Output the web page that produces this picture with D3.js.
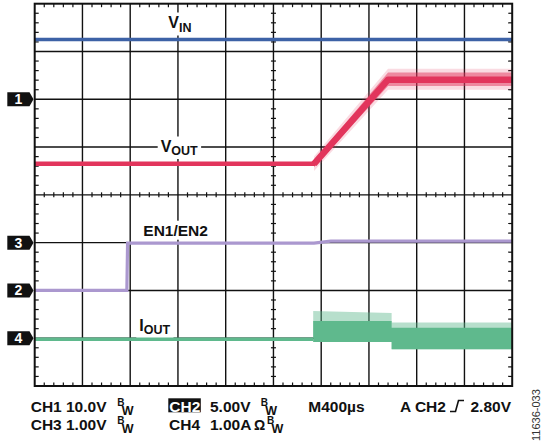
<!DOCTYPE html>
<html><head><meta charset="utf-8">
<script src="https://cdn.jsdelivr.net/npm/d3@7"></script>
<style>
body{margin:0;background:#fff}
svg{display:block}
text{font-family:"Liberation Sans",Arial,Helvetica,sans-serif;font-weight:bold;fill:#111}
</style>
</head><body>
<svg id="c" width="542" height="442"></svg>
<script>
// ---- data (time in µs, 400 µs/div; level in divisions, 0 = screen centre) ----
const timeTicks = d3.range(0, 4001, 400);
const timeMinor = d3.range(0, 4001, 80);
const levelTicks = d3.range(-4, 4.001, 1);
const levelMinor = d3.range(-4, 4.001, 0.2);

const vinT = [0, 4000];
const vinV = [3.25, 3.25];

const voutT = [0, 2340, 2960, 4000];
const voutV = [0.65, 0.65, 2.41, 2.41];
const voutNoiseT  = [2340, 2960, 4000];
const voutNoiseHi = [0.72, 2.56, 2.56];
const voutNoiseLo = [0.58, 2.28, 2.28];

const enT = [0, 772, 778, 2340, 2480, 4000];
const enV = [-2.0, -2.0, -1.01, -1.01, -0.97, -0.97];

const ioutT = [0, 2333];
const ioutV = [-3.02, -3.02];
const ioutBandT      = [2333, 2990, 2990, 4000];
const ioutSparseHi   = [-2.43, -2.47, -2.67, -2.67];
const ioutDenseHi    = [-2.64, -2.64, -2.78, -2.78];
const ioutDenseLo    = [-3.08, -3.08, -3.23, -3.23];

const markerLabels = ["1", "2", "3", "4"];
const markerLevels = [2, -2, -1, -3];

const row1 = ["CH1 10.0V", "5.00V", "M400µs", "A CH2", "2.80V"];
const row2 = ["CH3 1.00V", "CH4", "1.00A", "Ω"];
const figId = "11636-033";

// ---- scales ----
const X0 = 34.7, X1 = 512.2, Y0 = 3.7, Y1 = 386;
const x = d3.scaleLinear().domain([0, 4000]).range([X0, X1]);
const y = d3.scaleLinear().domain([-4, 4]).range([Y1, Y0]);

const svg = d3.select("#c");
const C = {vin:"#3d62a6", vout:"#e2355c", en:"#ab98cf", iout:"#5fb98d"};

// ---- grid ----
const g = svg.append("g");
g.selectAll(".vx").data(timeTicks.slice(1, -1)).join("line")
  .attr("x1", d => x(d)).attr("x2", d => x(d)).attr("y1", Y0).attr("y2", Y1)
  .attr("stroke", "#111").attr("stroke-width", 1.4);
g.selectAll(".hy").data(levelTicks.slice(1, -1)).join("line")
  .attr("y1", d => y(d)).attr("y2", d => y(d)).attr("x1", X0).attr("x2", X1)
  .attr("stroke", "#111").attr("stroke-width", 1.4);

const minorX = timeMinor.filter(t => t % 400 !== 0);
const minorY = levelMinor.filter(v => Math.abs(v - Math.round(v)) > 1e-6);
const tk = svg.append("g").attr("stroke", "#111").attr("stroke-width", 1.2);
minorX.forEach(t => {
  tk.append("line").attr("x1", x(t)).attr("x2", x(t)).attr("y1", Y0).attr("y2", Y0 + 3.5);
  tk.append("line").attr("x1", x(t)).attr("x2", x(t)).attr("y1", Y1 - 3.5).attr("y2", Y1);
  tk.append("line").attr("x1", x(t)).attr("x2", x(t)).attr("y1", y(0) - 2.5).attr("y2", y(0) + 2.5);
});
minorY.forEach(v => {
  tk.append("line").attr("y1", y(v)).attr("y2", y(v)).attr("x1", X0).attr("x2", X0 + 4);
  tk.append("line").attr("y1", y(v)).attr("y2", y(v)).attr("x1", X1 - 4).attr("x2", X1);
  tk.append("line").attr("y1", y(v)).attr("y2", y(v)).attr("x1", x(2000) - 2.5).attr("x2", x(2000) + 2.5);
});

// ---- labels with white backing ----
const px2t = p => (p - X0) / (X1 - X0) * 4000;
const py2v = p => y.invert(p);
function label(main, sub, px, py, mainSize, subSize, subDy) {
  const txt = svg.append("text").attr("x", x(px2t(px))).attr("y", y(py2v(py))).attr("font-size", mainSize);
  txt.append("tspan").text(main);
  if (sub) txt.append("tspan").attr("font-size", subSize).attr("dy", subDy).text(sub);
  const b = txt.node().getBBox();
  svg.insert("rect", "text").attr("x", b.x - 3).attr("y", b.y - 1)
    .attr("width", b.width + 6).attr("height", b.height + 2).attr("fill", "#fff");
  return txt;
}
label("V", "IN", 168.3, 27.5, 16, 12.5, 4);
label("V", "OUT", 160.7, 151.5, 16, 12.5, 3.5);
label("EN1/EN2", null, 143.3, 235.7, 15.5);
label("I", "OUT", 139.3, 331, 16, 12.5, 3);

// ---- traces ----
svg.append("clipPath").attr("id", "pc").append("rect")
  .attr("x", X0).attr("y", Y0).attr("width", X1 - X0).attr("height", Y1 - Y0);
const tr = svg.append("g").attr("clip-path", "url(#pc)");
const line = d3.line().x(d => x(d[0])).y(d => y(d[1]));
const zip = (a, b) => a.map((d, i) => [d, b[i]]);
const band = (T, hi, lo) => d3.area().x((d, i) => x(T[i])).y0((d, i) => y(lo[i])).y1((d, i) => y(hi[i]))(T);

tr.append("path").attr("d", line(zip(vinT, vinV))).attr("fill", "none").attr("stroke", C.vin).attr("stroke-width", 3.5);

tr.append("path").attr("d", band(voutNoiseT, voutNoiseHi.map(v => v + 0.08), voutNoiseLo.map(v => v - 0.08)))
  .attr("fill", C.vout).attr("fill-opacity", 0.18);
tr.append("path").attr("d", band(voutNoiseT, voutNoiseHi, voutNoiseLo)).attr("fill", C.vout).attr("fill-opacity", 0.5);
tr.append("path").attr("d", line(zip(voutT, voutV))).attr("fill", "none").attr("stroke", C.vout).attr("stroke-width", 4.5);
tr.append("path").attr("d", line(zip(voutT.slice(1), voutV.slice(1)))).attr("fill", "none")
  .attr("stroke", C.vout).attr("stroke-width", 6.5).attr("stroke-linejoin", "round");

tr.append("path").attr("d", line(zip(enT, enV))).attr("fill", "none").attr("stroke", C.en).attr("stroke-width", 3.2);

tr.append("path").attr("d", band(ioutBandT, ioutSparseHi, ioutDenseLo)).attr("fill", C.iout).attr("fill-opacity", 0.45);
tr.append("path").attr("d", band(ioutBandT, ioutDenseHi, ioutDenseLo)).attr("fill", C.iout);
tr.append("path").attr("d", line(zip(ioutT, ioutV))).attr("fill", "none").attr("stroke", C.iout).attr("stroke-width", 3.5);

// border
svg.append("rect").attr("x", X0).attr("y", Y0).attr("width", X1 - X0).attr("height", Y1 - Y0)
  .attr("fill", "none").attr("stroke", "#111").attr("stroke-width", 2);

// ---- channel markers ----
markerLabels.forEach((m, i) => {
  const cy = y(markerLevels[i]);
  svg.append("path").attr("d", `M7.3,${cy - 7}H29.5L33.5,${cy}L29.5,${cy + 7}H7.3Z`).attr("fill", "#111");
  svg.append("text").attr("x", 18.5).attr("y", cy + 5).attr("text-anchor", "middle")
    .attr("font-size", 14).style("fill", "#fff").text(m);
});

// ---- bottom status text ----
const fs = 15.5;
function bw(x0, base) {
  const t = svg.append("text").attr("x", x0).attr("y", base - 6);
  t.append("tspan").attr("font-size", 10).text("B");
  t.append("tspan").attr("font-size", 12.5).attr("dx", -2.8).attr("dy", 9.5).text("W");
}
const b1 = 411.5, b2 = 429.5;
svg.append("text").attr("x", 30.7).attr("y", b1).attr("font-size", fs).text(row1[0]);
bw(117.3, b1);
svg.append("rect").attr("x", 168.3).attr("y", 398.3).attr("width", 32.5).attr("height", 14).attr("fill", "#111");
svg.append("text").attr("x", 169.3).attr("y", b1).attr("font-size", fs).style("fill", "#fff").text("CH2");
svg.append("text").attr("x", 210).attr("y", b1).attr("font-size", fs).text(row1[1]);
bw(260.7, b1);
svg.append("text").attr("x", 308.3).attr("y", b1).attr("font-size", fs).text(row1[2]);
svg.append("text").attr("x", 400).attr("y", b1).attr("font-size", fs).text(row1[3]);
svg.append("path").attr("d", `M450,${b1}H455.5L458.5,${b1 - 11}H464`).attr("fill", "none").attr("stroke", "#111").attr("stroke-width", 1.6);
svg.append("text").attr("x", 511).attr("y", b1).attr("text-anchor", "end").attr("font-size", fs).text(row1[4]);

svg.append("text").attr("x", 30.7).attr("y", b2).attr("font-size", fs).text(row2[0]);
bw(117.3, b2);
svg.append("text").attr("x", 169).attr("y", b2).attr("font-size", fs).text(row2[1]);
svg.append("text").attr("x", 210).attr("y", b2).attr("font-size", fs).text(row2[2]);
svg.append("text").attr("x", 254).attr("y", b2).attr("font-size", 14).text(row2[3]);
bw(267, b2);

svg.append("text").attr("transform", "translate(539.5,441) rotate(-90)")
  .attr("font-size", 11).style("font-weight", "normal").style("fill", "#333").text(figId);
</script>
</body></html>
